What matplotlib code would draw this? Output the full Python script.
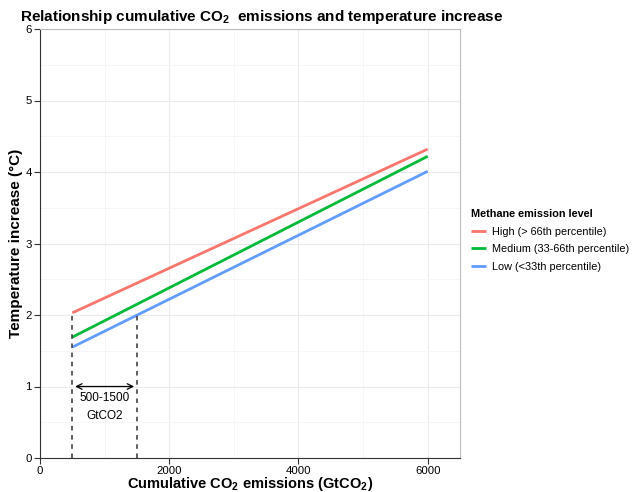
import matplotlib

matplotlib.use("Agg")
import matplotlib.pyplot as plt

# cumulative CO2 emissions (GtCO2) at the ends of each line
x_ends = [500, 6000]
series_names = ["High (> 66th percentile)", "Medium (33-66th percentile)", "Low (<33th percentile)"]
temp_high = [2.03, 4.32]
temp_medium = [1.69, 4.22]
temp_low = [1.55, 4.01]
colors = ["#F8766D", "#00BA38", "#619CFF"]

range_lo, range_hi = 500, 1500
x_ticks = [0, 2000, 4000, 6000]
y_ticks = [0, 1, 2, 3, 4, 5, 6]

plt.rcParams["font.family"] = ["Liberation Sans", "DejaVu Sans"]
plt.rcParams["mathtext.fontset"] = "custom"
plt.rcParams["mathtext.rm"] = "Liberation Sans:bold"
plt.rcParams["mathtext.it"] = "Liberation Sans:bold"

fig = plt.figure(figsize=(6.35, 4.92), dpi=100)
ax = fig.add_axes([40 / 635, 1 - 458 / 492, 420 / 635, 429 / 492])

for vals, name, c in zip([temp_high, temp_medium, temp_low], series_names, colors):
    ax.plot(x_ends, vals, color=c, lw=2, label=name, solid_capstyle="butt")

# dashed markers for 500-1500 GtCO2 range
y_hi_at_lo = temp_high[0]
slope_low = (temp_low[1] - temp_low[0]) / (x_ends[1] - x_ends[0])
y_low_at_hi = temp_low[0] + slope_low * (range_hi - x_ends[0])
ax.plot([range_lo, range_lo], [0, y_hi_at_lo], ls=(0, (3, 3)), color="#333333", lw=1.1)
ax.plot([range_hi, range_hi], [0, y_low_at_hi], ls=(0, (3, 3)), color="#333333", lw=1.1)
ax.annotate("", xy=(range_lo, 1), xytext=(range_hi, 1),
            arrowprops=dict(arrowstyle="<->", color="black", lw=0.9))
ax.text(1000, 0.84, "500-1500", ha="center", va="center", fontsize=8.5)
ax.text(1000, 0.59, "GtCO2", ha="center", va="center", fontsize=8.5)

ax.set_xlim(0, 6500)
ax.set_ylim(0, 6)
ax.set_xticks(x_ticks)
ax.set_yticks(y_ticks)
ax.set_xticks([1000, 3000, 5000], minor=True)
ax.set_yticks([0.5, 1.5, 2.5, 3.5, 4.5, 5.5], minor=True)
ax.grid(which="major", color="#EBEBEB", lw=0.8)
ax.grid(which="minor", color="#F5F5F5", lw=0.6)
ax.set_axisbelow(True)
ax.tick_params(which="minor", length=0)
ax.tick_params(which="major", length=4, width=0.8, labelsize=8.2, color="#333333", pad=2)
for side in ["top", "right"]:
    ax.spines[side].set_color("#BBBBBB")
for side in ["left", "bottom"]:
    ax.spines[side].set_color("#333333")

fig.text(250 / 635, 1 - 488 / 492, "Cumulative CO$_2$ emissions (GtCO$_2$)",
         fontsize=10.5, fontweight="bold", ha="center", va="baseline")
fig.text(16 / 635, 1 - 243 / 492, "Temperature increase (°C)", rotation=90,
         fontsize=11, fontweight="bold", ha="center", va="center")
fig.text(20 / 635, 1 - 17 / 492, "Relationship cumulative CO$_2$  emissions and temperature increase",
         fontsize=11, fontweight="bold", va="center", ha="left")

leg = ax.legend(loc="upper left", bbox_to_anchor=(471 / 635, 1 - 209 / 492), bbox_transform=fig.transFigure,
                frameon=False, fontsize=7.8, title="Methane emission level",
                title_fontproperties={"weight": "bold", "size": 7.8}, handlelength=1.4,
                handletextpad=0.5, labelspacing=0.7, borderaxespad=0, borderpad=0)
leg._legend_box.align = "left"

fig.savefig("out.png", dpi=100)
